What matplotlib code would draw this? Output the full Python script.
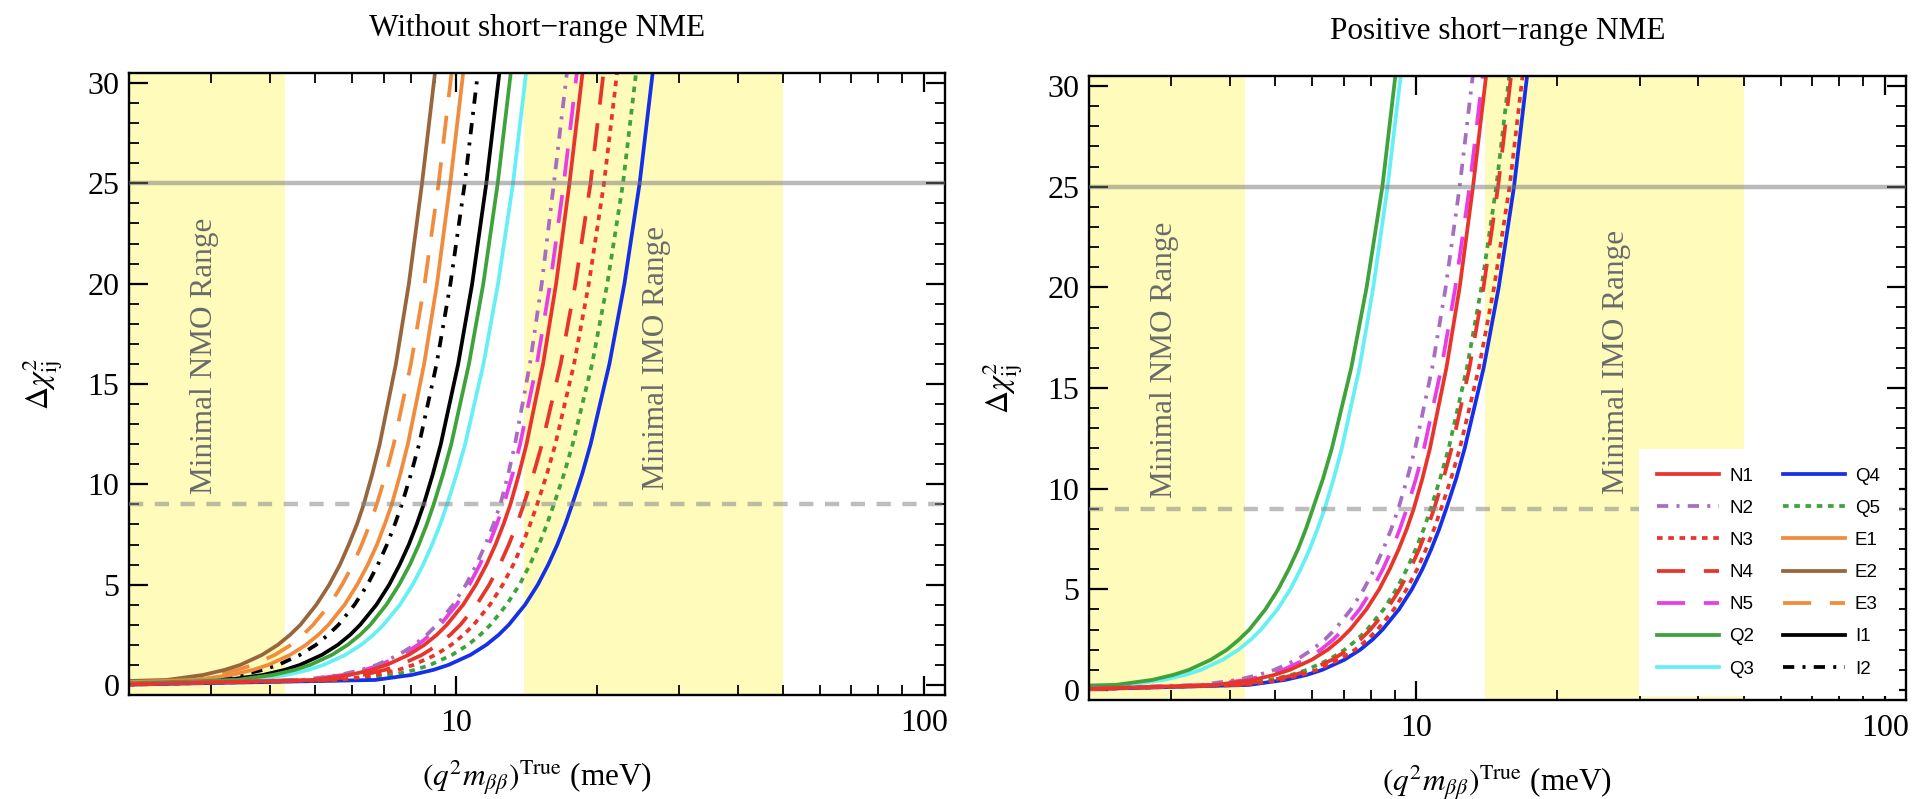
import matplotlib
matplotlib.use("Agg")
import matplotlib.pyplot as plt
from matplotlib.lines import Line2D
from matplotlib.ticker import LogLocator, MultipleLocator, FormatStrFormatter, NullFormatter

plt.rcParams['font.family'] = 'serif'
plt.rcParams['font.serif'] = ['Liberation Serif', 'DejaVu Serif']
plt.rcParams['mathtext.fontset'] = 'stix'

# Delta chi^2 levels and the true q^2 m_bb (meV) at which each model reaches them
levels = [0.25, 0.5, 0.75, 1, 1.5, 2, 2.5, 3, 4, 5, 6, 7, 8, 9, 10.5, 12, 16, 20, 25, 31]
m_min = 2.0

left_mass = {
    'N1': [4.95, 5.93, 6.59, 7.11, 7.92, 8.56, 9.10, 9.56, 10.36, 11.03, 11.62, 12.15, 12.63, 13.07, 13.63, 14.15, 15.35, 16.37, 17.48, 18.75],
    'N2': [4.71, 5.64, 6.27, 6.77, 7.54, 8.15, 8.66, 9.10, 9.86, 10.50, 11.06, 11.56, 12.02, 12.44, 12.93, 13.37, 14.39, 15.25, 16.19, 17.36],
    'N3': [5.65, 6.76, 7.52, 8.11, 9.04, 9.77, 10.38, 10.91, 11.82, 12.59, 13.26, 13.86, 14.40, 14.91, 15.64, 16.31, 17.88, 19.23, 20.72, 22.22],
    'N4': [5.29, 6.33, 7.04, 7.60, 8.46, 9.15, 9.72, 10.22, 11.07, 11.78, 12.41, 12.97, 13.49, 13.96, 14.64, 15.27, 16.74, 18.00, 19.39, 20.79],
    'N5': [4.79, 5.74, 6.38, 6.88, 7.67, 8.29, 8.81, 9.26, 10.03, 10.68, 11.25, 11.76, 12.22, 12.65, 13.21, 13.71, 14.89, 15.90, 17.00, 18.23],
    'Q2': [3.40, 4.06, 4.52, 4.88, 5.43, 5.87, 6.24, 6.56, 7.10, 7.56, 7.97, 8.33, 8.66, 8.96, 9.38, 9.77, 10.66, 11.44, 12.28, 13.17],
    'Q3': [3.63, 4.34, 4.83, 5.21, 5.80, 6.27, 6.66, 7.00, 7.59, 8.08, 8.51, 8.89, 9.25, 9.57, 10.03, 10.46, 11.45, 12.30, 13.24, 14.20],
    'Q4': [6.72, 8.04, 8.94, 9.64, 10.74, 11.61, 12.34, 12.97, 14.05, 14.96, 15.75, 16.47, 17.12, 17.72, 18.60, 19.40, 21.28, 22.91, 24.69, 26.48],
    'Q5': [6.14, 7.34, 8.16, 8.81, 9.81, 10.61, 11.27, 11.85, 12.83, 13.67, 14.39, 15.05, 15.64, 16.19, 17.01, 17.76, 19.54, 21.06, 22.75, 24.40],
    'E1': [2.76, 3.31, 3.68, 3.97, 4.42, 4.78, 5.08, 5.34, 5.78, 6.15, 6.48, 6.78, 7.04, 7.29, 7.60, 7.89, 8.55, 9.11, 9.72, 10.42],
    'E2': [2.41, 2.88, 3.20, 3.46, 3.85, 4.16, 4.42, 4.65, 5.03, 5.36, 5.65, 5.90, 6.14, 6.35, 6.62, 6.87, 7.44, 7.93, 8.46, 9.07],
    'E3': [2.57, 3.07, 3.41, 3.68, 4.10, 4.44, 4.71, 4.95, 5.37, 5.71, 6.02, 6.29, 6.54, 6.77, 7.08, 7.36, 8.01, 8.57, 9.18, 9.84],
    'I1': [3.23, 3.87, 4.30, 4.64, 5.17, 5.59, 5.94, 6.24, 6.76, 7.20, 7.58, 7.93, 8.24, 8.53, 8.92, 9.28, 10.11, 10.83, 11.61, 12.45],
    'I2': [2.90, 3.47, 3.86, 4.17, 4.64, 5.02, 5.33, 5.61, 6.07, 6.47, 6.81, 7.12, 7.40, 7.66, 8.01, 8.34, 9.09, 9.73, 10.44, 11.20],
}
left_start = {'N1': 0.04, 'N2': 0.05, 'N3': 0.03, 'N4': 0.03, 'N5': 0.04,
              'Q2': 0.09, 'Q3': 0.08, 'Q4': 0.02, 'Q5': 0.02,
              'E1': 0.14, 'E2': 0.20, 'E3': 0.17, 'I1': 0.10, 'I2': 0.12}

right_mass = {
    'N1': [3.74, 4.48, 4.98, 5.37, 5.98, 6.47, 6.87, 7.22, 7.82, 8.33, 8.77, 9.17, 9.54, 9.87, 10.30, 10.69, 11.59, 12.37, 13.21, 14.17],
    'N2': [3.47, 4.15, 4.61, 4.98, 5.55, 5.99, 6.37, 6.70, 7.25, 7.72, 8.13, 8.50, 8.84, 9.15, 9.56, 9.94, 10.81, 11.55, 12.37, 13.27],
    'N3': [4.28, 5.12, 5.69, 6.14, 6.84, 7.40, 7.86, 8.26, 8.95, 9.53, 10.04, 10.49, 10.91, 11.29, 11.86, 12.38, 13.60, 14.65, 15.81, 16.95],
    'N4': [4.13, 4.95, 5.50, 5.94, 6.61, 7.15, 7.59, 7.98, 8.65, 9.21, 9.70, 10.14, 10.54, 10.91, 11.42, 11.89, 12.98, 13.91, 14.94, 16.02],
    'N5': [3.62, 4.33, 4.81, 5.19, 5.78, 6.25, 6.64, 6.98, 7.56, 8.05, 8.48, 8.87, 9.22, 9.54, 9.98, 10.38, 11.31, 12.11, 12.99, 13.93],
    'Q2': [2.28, 2.73, 3.03, 3.27, 3.64, 3.94, 4.18, 4.40, 4.76, 5.07, 5.34, 5.59, 5.81, 6.01, 6.32, 6.60, 7.26, 7.83, 8.46, 9.07],
    'Q3': [2.41, 2.89, 3.21, 3.47, 3.86, 4.17, 4.43, 4.66, 5.05, 5.38, 5.66, 5.92, 6.15, 6.37, 6.66, 6.93, 7.56, 8.09, 8.68, 9.31],
    'Q4': [4.39, 5.25, 5.84, 6.30, 7.02, 7.59, 8.06, 8.47, 9.18, 9.78, 10.30, 10.76, 11.19, 11.58, 12.16, 12.68, 13.92, 14.99, 16.16, 17.33],
    'Q5': [4.07, 4.87, 5.41, 5.84, 6.50, 7.03, 7.47, 7.85, 8.51, 9.06, 9.54, 9.97, 10.37, 10.73, 11.24, 11.72, 12.82, 13.77, 14.81, 15.88],
}
right_start = {'N1': 0.06, 'N2': 0.07, 'N3': 0.04, 'N4': 0.04, 'N5': 0.06,
               'Q2': 0.22, 'Q3': 0.18, 'Q4': 0.04, 'Q5': 0.04}

models = ['N1', 'N2', 'N3', 'N4', 'N5', 'Q2', 'Q3', 'Q4', 'Q5', 'E1', 'E2', 'E3', 'I1', 'I2']

nmo_range = (2.0, 4.3)
imo_range = (14.0, 50.0)
thresholds = [9, 25]

red = '#e8352b'
green = '#3ea33a'
orange = '#f08c3c'
dashdot = (0, (3.0, 2.2, 0.8, 2.2))
dashed = (0, (7.5, 5.0))
dotted = (0, (1.5, 1.5))
styles = {
    'N1': (red, '-'), 'N2': ('#a86cc1', dashdot), 'N3': (red, dotted),
    'N4': (red, dashed), 'N5': ('#e83ee8', dashed), 'Q2': (green, '-'),
    'Q3': ('#66f0f5', '-'), 'Q4': ('#1530e6', '-'), 'Q5': (green, dotted),
    'E1': (orange, '-'), 'E2': ('#98663c', '-'), 'E3': (orange, dashed),
    'I1': ('black', '-'), 'I2': ('black', dashdot),
}
lw = 2.7
yellow = '#fefbbb'

fig = plt.figure(figsize=(19.15, 7.99), dpi=100)
ax1 = fig.add_axes([129 / 1915, 1 - 695 / 799, 816 / 1915, 622 / 799])
ax2 = fig.add_axes([1089 / 1915, 1 - 700 / 799, 817 / 1915, 624 / 799])


def draw_panel(ax, mass, start, title):
    ax.set_xscale('log')
    ax.axvspan(*nmo_range, color=yellow, lw=0, zorder=0)
    ax.axvspan(*imo_range, color=yellow, lw=0, zorder=0)
    for name in models[::-1]:
        if name not in mass:
            continue
        color, ls = styles[name]
        ax.plot([m_min] + mass[name], [start[name]] + levels,
                color=color, linestyle=ls, lw=lw, zorder=2)
    ax.axhline(thresholds[0], color='#888888', alpha=0.55, lw=3.2,
               linestyle=(0, (3.2, 2.6)), zorder=3)
    ax.axhline(thresholds[1], color='#777777', alpha=0.5, lw=3.2, zorder=3)

    ax.text(2.9, 16.4, 'Minimal NMO Range', rotation=90, ha='center', va='center',
            color='#6a6a6a', fontsize=22.5, zorder=1)
    ax.text(26.8, 16.3, 'Minimal IMO Range', rotation=90, ha='center', va='center',
            color='#6a6a6a', fontsize=22.5, zorder=1)

    ax.set_xlim(2.0, 111)
    ax.set_ylim(-0.5, 30.5)
    ax.xaxis.set_major_locator(LogLocator(base=10, numticks=5))
    ax.xaxis.set_minor_locator(LogLocator(base=10, subs=range(2, 10), numticks=20))
    ax.xaxis.set_major_formatter(FormatStrFormatter('%d'))
    ax.xaxis.set_minor_formatter(NullFormatter())
    ax.yaxis.set_major_locator(MultipleLocator(5))
    ax.yaxis.set_minor_locator(MultipleLocator(1))
    ax.tick_params(which='both', direction='in', top=True, right=True, labelsize=23)
    ax.tick_params(which='major', length=14, width=1.6)
    ax.tick_params(which='minor', length=7, width=1.3)
    ax.tick_params(axis='x', which='major', pad=10)
    ax.tick_params(axis='y', which='major', pad=7)
    for sp in ax.spines.values():
        sp.set_linewidth(1.7)

    ax.set_xlabel(r'$(q^2 m_{\beta\beta})^{\rm True}$ (meV)', fontsize=22.5)
    ax.xaxis.set_label_coords(0.5, -0.102)
    ax.xaxis.label.set_va('top')
    ax.set_ylabel(r'$\Delta\chi^2_{\rm ij}$', fontsize=23)
    ax.yaxis.set_label_coords(-0.078, 0.5)
    ax.text(0.5, 1.06, title, transform=ax.transAxes, ha='center', va='baseline',
            fontsize=22.5)


draw_panel(ax1, left_mass, left_start, 'Without short\u2212range NME')
draw_panel(ax2, right_mass, right_start, 'Positive short\u2212range NME')

handles = [Line2D([], [], color=styles[n][0], linestyle=styles[n][1], lw=lw) for n in models]
leg = ax2.legend(handles, models, ncol=2, loc='lower right',
                 bbox_to_anchor=(0.991, 0.006), borderaxespad=0,
                 frameon=True, fancybox=False, facecolor='white', edgecolor='none',
                 framealpha=1, prop={'family': 'Liberation Sans', 'size': 13.5},
                 handlelength=3.3, handletextpad=0.55, columnspacing=1.5,
                 labelspacing=0.8, borderpad=1.0)
leg.set_zorder(5)

fig.savefig('out.png', dpi=100)
